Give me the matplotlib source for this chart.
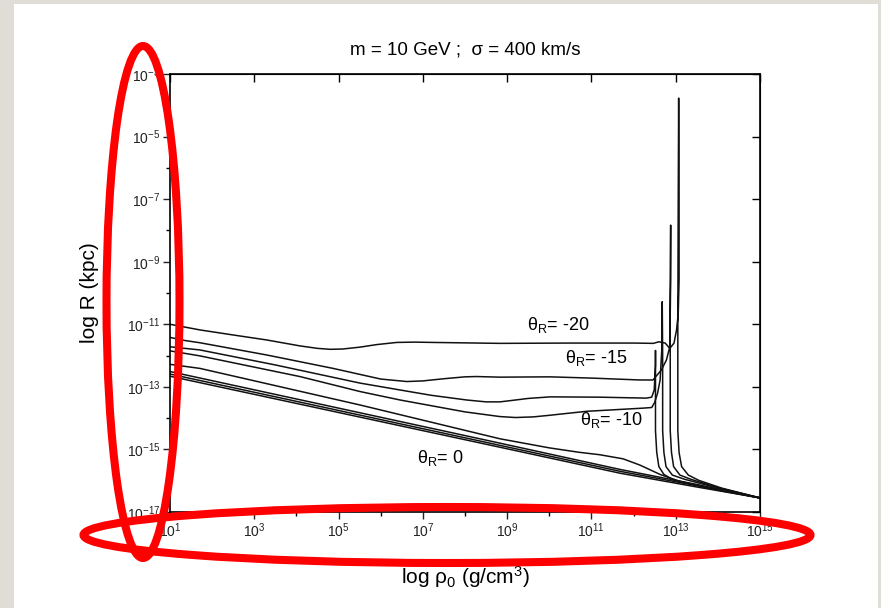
import numpy as np
import matplotlib
matplotlib.use("Agg")
import matplotlib.pyplot as plt
from matplotlib.patches import Ellipse, Rectangle
from matplotlib.ticker import FixedLocator, FuncFormatter, NullLocator, NullFormatter

plt.rcParams['font.family'] = ['Liberation Sans', 'DejaVu Sans']
plt.rcParams['mathtext.fontset'] = 'custom'
plt.rcParams['mathtext.rm'] = 'Liberation Sans'
plt.rcParams['mathtext.it'] = 'Liberation Sans:italic'
plt.rcParams['mathtext.bf'] = 'Liberation Sans:bold'

#curves, as log10(rho0) and log10(R)
th20_x = [1.0, 1.71, 2.49, 3.29, 4.08, 4.5, 4.8, 5.1, 5.51, 5.9, 6.38, 6.8, 7.24, 8.83, 10.5,
          12.0, 12.47, 12.60, 12.75, 12.86, 12.96, 13.02, 13.06, 13.08, 13.08, 13.07, 13.06,
          13.05, 13.05, 13.08, 13.14, 13.3, 13.55, 14.1, 15.0]
th20_y = [-11.0, -11.18, -11.34, -11.50, -11.69, -11.77, -11.80, -11.79, -11.73, -11.65, -11.58,
          -11.57, -11.58, -11.61, -11.60, -11.60, -11.61, -11.56, -11.60, -11.77, -11.60, -11.18,
          -10.65, -9.58, -7.0, -3.77, -7.0, -11.0, -14.4, -15.1, -15.55, -15.82, -15.99, -16.24,
          -16.55]

th15_x = [1.0, 1.36, 1.71, 3.29, 4.87, 5.5, 6.0, 6.62, 7.0, 7.5, 8.0, 8.27, 8.83, 10.02, 11.0,
          12.15, 12.46, 12.66, 12.78, 12.86, 12.88, 12.88, 12.87, 12.87, 12.90, 12.95, 13.1,
          13.35, 14.0, 15.0]
th15_y = [-11.42, -11.52, -11.59, -11.98, -12.41, -12.60, -12.75, -12.83, -12.81, -12.74, -12.68,
          -12.67, -12.69, -12.68, -12.72, -12.78, -12.78, -12.46, -12.14, -11.72, -9.58, -7.83,
          -10.0, -14.4, -15.1, -15.55, -15.82, -15.95, -16.22, -16.55]

th125_x = [1.0, 1.71, 3.5, 5.51, 6.46, 7.2, 8.04, 8.5, 8.83, 9.2, 9.5, 10.02, 11.2, 12.3, 12.43,
           12.49, 12.52, 12.52, 12.52, 12.52, 12.55, 12.60, 12.72, 12.95, 13.7, 15.0]
th125_y = [-11.72, -11.82, -12.30, -12.88, -13.10, -13.27, -13.42, -13.48, -13.48, -13.42,
           -13.37, -13.32, -13.33, -13.36, -13.33, -13.10, -12.3, -11.84, -13.0, -14.4, -15.1,
           -15.55, -15.80, -15.98, -16.2, -16.55]

th10_x = [1.0, 1.71, 4.08, 5.51, 6.46, 8.0, 8.83, 9.2, 9.62, 10.0, 10.41, 10.9, 11.3, 12.23,
          12.43, 12.50, 12.57, 12.63, 12.67, 12.68, 12.69, 12.69, 12.72, 12.77, 12.92, 13.2,
          13.9, 15.0]
th10_y = [-11.85, -12.01, -12.67, -13.15, -13.42, -13.80, -13.95, -13.98, -13.96, -13.91, -13.85,
          -13.78, -13.75, -13.68, -13.66, -13.5, -13.2, -12.78, -11.8, -10.28, -12.0, -14.4,
          -15.1, -15.55, -15.82, -15.95, -16.2, -16.55]

th75_x = [1.0, 1.71, 5.51, 8.83, 10.0, 10.7, 11.2, 11.75, 12.15, 12.63, 13.10, 14.0, 15.0]
th75_y = [-12.28, -12.41, -13.58, -14.66, -14.95, -15.09, -15.17, -15.30, -15.50, -15.80, -16.02,
          -16.30, -16.55]

th5_x = [1.0, 8.83, 11.68, 13.5, 15.0]
th5_y = [-12.51, -14.80, -15.64, -16.12, -16.55]
th25_x = [1.0, 8.83, 11.68, 13.5, 15.0]
th25_y = [-12.59, -14.87, -15.70, -16.16, -16.55]
th0_x = [1.0, 8.83, 11.68, 13.5, 15.0]
th0_y = [-12.66, -14.93, -15.76, -16.20, -16.55]

curves = [(th20_x, th20_y), (th15_x, th15_y), (th125_x, th125_y), (th10_x, th10_y),
          (th75_x, th75_y), (th5_x, th5_y), (th25_x, th25_y), (th0_x, th0_y)]

x_major = [1, 3, 5, 7, 9, 11, 13, 15]
x_minor = [2, 4, 6, 8, 10, 12, 14]
y_major = [-3, -5, -7, -9, -11, -13, -15, -17]
y_minor = [-4, -6, -8, -10, -12, -14, -16]

fig = plt.figure(figsize=(8.81, 6.08), dpi=100)
fig.patch.set_facecolor('#e0ddd7')
fig.patches.append(Rectangle((14/881, 0), 864/881, 604/608, transform=fig.transFigure,
                             facecolor='white', edgecolor='none', zorder=-5))

ax = fig.add_axes([170/881, 1-512/608, 590/881, 438/608])
ax.patch.set_alpha(0)
for lx, ly in curves:
    ax.plot(10.0**np.array(lx), 10.0**np.array(ly), color='#111111', lw=1.1)

ax.set_xscale('log')
ax.set_yscale('log')
ax.set_xlim(1e1, 1e15)
ax.set_ylim(1e-17, 1e-3)

fmt = FuncFormatter(lambda v, p: r'$\mathregular{10^{%d}}$' % round(np.log10(v)))
ax.xaxis.set_major_locator(FixedLocator([10.0**k for k in x_major]))
ax.xaxis.set_minor_locator(FixedLocator([10.0**k for k in x_minor]))
ax.yaxis.set_major_locator(FixedLocator([10.0**k for k in y_major]))
ax.yaxis.set_minor_locator(FixedLocator([10.0**k for k in y_minor]))
ax.xaxis.set_major_formatter(fmt)
ax.yaxis.set_major_formatter(fmt)
ax.xaxis.set_minor_formatter(NullFormatter())
ax.yaxis.set_minor_formatter(NullFormatter())
ax.tick_params(which='major', direction='out', length=5, width=1.0, labelsize=10,
               colors='#222222', pad=2)
ax.tick_params(which='minor', direction='out', length=3, width=1.0)
for s in ax.spines.values():
    s.set_linewidth(1.2)

#inward ticks on top and right
top = ax.secondary_xaxis('top')
top.set_xticks([10.0**k for k in x_major])
top.xaxis.set_minor_locator(NullLocator())
top.tick_params(direction='in', length=6, width=1.0, labeltop=False)
right = ax.secondary_yaxis('right')
right.set_yticks([10.0**k for k in y_major])
right.yaxis.set_minor_locator(NullLocator())
right.tick_params(direction='in', length=6, width=1.0, labelright=False)

ax.set_xlabel('log ρ$_\\mathregular{0}$ (g/cm$^\\mathregular{3}$)', fontsize=15, labelpad=17)
ax.set_ylabel('log R (kpc)', fontsize=15, labelpad=20)
ax.set_title('m = 10 GeV ;  σ = 400 km/s', fontsize=13.5, pad=14)

ax.text(10**9.47, 10**-11.02, 'θ$_\\mathregular{R}$= -20', fontsize=13, va='center')
ax.text(10**10.37, 10**-12.08, 'θ$_\\mathregular{R}$= -15', fontsize=13, va='center')
ax.text(10**10.73, 10**-14.06, 'θ$_\\mathregular{R}$= -10', fontsize=13, va='center')
ax.text(10**6.86, 10**-15.27, 'θ$_\\mathregular{R}$= 0', fontsize=13, va='center')

#red marker ellipses
fig.patches.append(Ellipse((143/881, 1-302/608), 73/881, 512/608, transform=fig.transFigure,
                           fill=False, edgecolor='#ff0000', lw=5.8, zorder=10))
fig.patches.append(Ellipse((447/881, 1-535/608), 727/881, 56/608, transform=fig.transFigure,
                           fill=False, edgecolor='#ff0000', lw=5.8, zorder=10))

fig.savefig('out.png', dpi=100, facecolor=fig.get_facecolor())
